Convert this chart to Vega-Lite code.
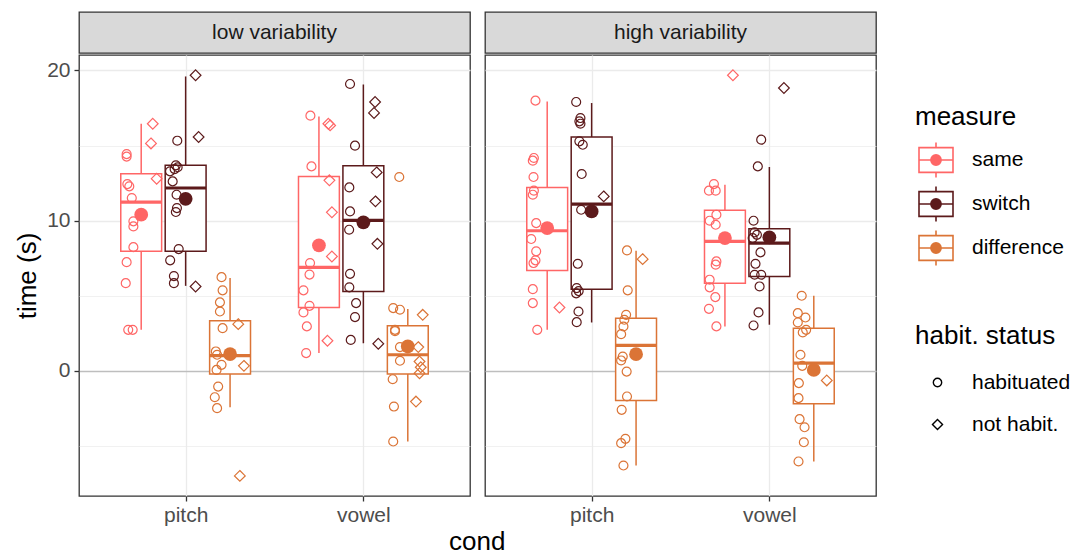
{
"$schema": "https://vega.github.io/schema/vega-lite/v6.json",
"padding": {"left": 13, "top": 11, "right": 5, "bottom": 3},
"background": "white",
"datasets": {
"boxes": [
{"var":"low","cond":"pitch","measure":"same","lo":2.72,"q1":7.95,"med":11.23,"q3":13.12,"hi":16.45,"mean":10.39},
{"var":"low","cond":"pitch","measure":"switch","lo":5.65,"q1":7.95,"med":12.17,"q3":13.68,"hi":19.6,"mean":11.45},
{"var":"low","cond":"pitch","measure":"difference","lo":-2.43,"q1":-0.23,"med":1.0,"q3":3.32,"hi":6.17,"mean":1.1},
{"var":"low","cond":"vowel","measure":"same","lo":1.17,"q1":4.21,"med":6.88,"q3":12.94,"hi":16.94,"mean":8.35},
{"var":"low","cond":"vowel","measure":"switch","lo":1.83,"q1":5.28,"med":10.01,"q3":13.65,"hi":19.06,"mean":9.88},
{"var":"low","cond":"vowel","measure":"difference","lo":-4.72,"q1":-0.23,"med":1.06,"q3":2.99,"hi":4.1,"mean":1.61},
{"var":"high","cond":"pitch","measure":"same","lo":2.72,"q1":6.68,"med":9.32,"q3":12.21,"hi":17.94,"mean":9.5},
{"var":"high","cond":"pitch","measure":"switch","lo":3.21,"q1":5.43,"med":11.1,"q3":15.57,"hi":17.83,"mean":10.61},
{"var":"high","cond":"pitch","measure":"difference","lo":-6.32,"q1":-1.99,"med":1.68,"q3":3.5,"hi":7.99,"mean":1.1},
{"var":"high","cond":"vowel","measure":"same","lo":2.95,"q1":5.83,"med":8.61,"q3":10.68,"hi":12.39,"mean":8.83},
{"var":"high","cond":"vowel","measure":"switch","lo":3.06,"q1":6.28,"med":8.5,"q3":9.46,"hi":13.57,"mean":8.88},
{"var":"high","cond":"vowel","measure":"difference","lo":-6.05,"q1":-2.21,"med":0.5,"q3":2.83,"hi":4.99,"mean":0.05}
],
"pts": [
{"var":"low","cond":"pitch","measure":"same","status":"not habit.","time":16.45,"jit":0.065},
{"var":"low","cond":"pitch","measure":"same","status":"not habit.","time":15.14,"jit":0.055},
{"var":"low","cond":"pitch","measure":"same","status":"habituated","time":14.43,"jit":-0.082},
{"var":"low","cond":"pitch","measure":"same","status":"habituated","time":14.26,"jit":-0.082},
{"var":"low","cond":"pitch","measure":"same","status":"not habit.","time":12.79,"jit":0.087},
{"var":"low","cond":"pitch","measure":"same","status":"habituated","time":12.43,"jit":-0.078},
{"var":"low","cond":"pitch","measure":"same","status":"habituated","time":12.28,"jit":-0.067},
{"var":"low","cond":"pitch","measure":"same","status":"habituated","time":11.5,"jit":-0.053},
{"var":"low","cond":"pitch","measure":"same","status":"habituated","time":9.95,"jit":-0.044},
{"var":"low","cond":"pitch","measure":"same","status":"habituated","time":9.61,"jit":-0.044},
{"var":"low","cond":"pitch","measure":"same","status":"habituated","time":8.23,"jit":-0.044},
{"var":"low","cond":"pitch","measure":"same","status":"habituated","time":7.23,"jit":-0.082},
{"var":"low","cond":"pitch","measure":"same","status":"habituated","time":5.83,"jit":-0.087},
{"var":"low","cond":"pitch","measure":"same","status":"habituated","time":2.72,"jit":-0.073},
{"var":"low","cond":"pitch","measure":"same","status":"habituated","time":2.72,"jit":-0.048},
{"var":"low","cond":"pitch","measure":"switch","status":"not habit.","time":19.68,"jit":0.056},
{"var":"low","cond":"pitch","measure":"switch","status":"not habit.","time":15.57,"jit":0.073},
{"var":"low","cond":"pitch","measure":"switch","status":"habituated","time":15.32,"jit":-0.047},
{"var":"low","cond":"pitch","measure":"switch","status":"habituated","time":13.68,"jit":-0.055},
{"var":"low","cond":"pitch","measure":"switch","status":"habituated","time":13.55,"jit":-0.045},
{"var":"low","cond":"pitch","measure":"switch","status":"habituated","time":13.43,"jit":-0.062},
{"var":"low","cond":"pitch","measure":"switch","status":"habituated","time":13.28,"jit":-0.088},
{"var":"low","cond":"pitch","measure":"switch","status":"habituated","time":12.61,"jit":-0.073},
{"var":"low","cond":"pitch","measure":"switch","status":"habituated","time":11.72,"jit":-0.051},
{"var":"low","cond":"pitch","measure":"switch","status":"habituated","time":10.83,"jit":-0.049},
{"var":"low","cond":"pitch","measure":"switch","status":"habituated","time":10.57,"jit":-0.055},
{"var":"low","cond":"pitch","measure":"switch","status":"habituated","time":8.1,"jit":-0.039},
{"var":"low","cond":"pitch","measure":"switch","status":"habituated","time":7.35,"jit":-0.087},
{"var":"low","cond":"pitch","measure":"switch","status":"habituated","time":6.3,"jit":-0.066},
{"var":"low","cond":"pitch","measure":"switch","status":"habituated","time":5.83,"jit":-0.066},
{"var":"low","cond":"pitch","measure":"switch","status":"not habit.","time":5.61,"jit":0.056},
{"var":"low","cond":"pitch","measure":"difference","status":"habituated","time":6.23,"jit":-0.048},
{"var":"low","cond":"pitch","measure":"difference","status":"habituated","time":5.35,"jit":-0.042},
{"var":"low","cond":"pitch","measure":"difference","status":"habituated","time":4.55,"jit":-0.057},
{"var":"low","cond":"pitch","measure":"difference","status":"habituated","time":3.94,"jit":-0.057},
{"var":"low","cond":"pitch","measure":"difference","status":"not habit.","time":3.1,"jit":0.046},
{"var":"low","cond":"pitch","measure":"difference","status":"habituated","time":2.83,"jit":-0.042},
{"var":"low","cond":"pitch","measure":"difference","status":"habituated","time":1.28,"jit":-0.08},
{"var":"low","cond":"pitch","measure":"difference","status":"habituated","time":1.06,"jit":-0.073},
{"var":"low","cond":"pitch","measure":"difference","status":"habituated","time":0.39,"jit":-0.048},
{"var":"low","cond":"pitch","measure":"difference","status":"not habit.","time":0.32,"jit":0.078},
{"var":"low","cond":"pitch","measure":"difference","status":"habituated","time":0.05,"jit":-0.076},
{"var":"low","cond":"pitch","measure":"difference","status":"habituated","time":-1.06,"jit":-0.067},
{"var":"low","cond":"pitch","measure":"difference","status":"habituated","time":-1.77,"jit":-0.086},
{"var":"low","cond":"pitch","measure":"difference","status":"habituated","time":-2.5,"jit":-0.073},
{"var":"low","cond":"pitch","measure":"difference","status":"not habit.","time":-7.01,"jit":0.055},
{"var":"low","cond":"vowel","measure":"same","status":"habituated","time":16.99,"jit":-0.048},
{"var":"low","cond":"vowel","measure":"same","status":"not habit.","time":16.45,"jit":0.053},
{"var":"low","cond":"vowel","measure":"same","status":"not habit.","time":16.34,"jit":0.063},
{"var":"low","cond":"vowel","measure":"same","status":"habituated","time":13.61,"jit":-0.042},
{"var":"low","cond":"vowel","measure":"same","status":"not habit.","time":12.68,"jit":0.059},
{"var":"low","cond":"vowel","measure":"same","status":"not habit.","time":10.55,"jit":0.073},
{"var":"low","cond":"vowel","measure":"same","status":"not habit.","time":7.61,"jit":0.073},
{"var":"low","cond":"vowel","measure":"same","status":"habituated","time":7.17,"jit":-0.05},
{"var":"low","cond":"vowel","measure":"same","status":"habituated","time":6.4,"jit":-0.053},
{"var":"low","cond":"vowel","measure":"same","status":"habituated","time":5.35,"jit":-0.087},
{"var":"low","cond":"vowel","measure":"same","status":"habituated","time":4.32,"jit":-0.053},
{"var":"low","cond":"vowel","measure":"same","status":"habituated","time":3.88,"jit":-0.087},
{"var":"low","cond":"vowel","measure":"same","status":"habituated","time":2.95,"jit":-0.068},
{"var":"low","cond":"vowel","measure":"same","status":"not habit.","time":1.99,"jit":0.048},
{"var":"low","cond":"vowel","measure":"same","status":"habituated","time":1.17,"jit":-0.072},
{"var":"low","cond":"vowel","measure":"switch","status":"habituated","time":19.1,"jit":-0.075},
{"var":"low","cond":"vowel","measure":"switch","status":"not habit.","time":17.9,"jit":0.066},
{"var":"low","cond":"vowel","measure":"switch","status":"not habit.","time":17.17,"jit":0.06},
{"var":"low","cond":"vowel","measure":"switch","status":"habituated","time":14.99,"jit":-0.047},
{"var":"low","cond":"vowel","measure":"switch","status":"not habit.","time":13.21,"jit":0.075},
{"var":"low","cond":"vowel","measure":"switch","status":"habituated","time":12.21,"jit":-0.079},
{"var":"low","cond":"vowel","measure":"switch","status":"not habit.","time":11.28,"jit":0.068},
{"var":"low","cond":"vowel","measure":"switch","status":"habituated","time":10.61,"jit":-0.075},
{"var":"low","cond":"vowel","measure":"switch","status":"habituated","time":9.39,"jit":-0.08},
{"var":"low","cond":"vowel","measure":"switch","status":"not habit.","time":8.45,"jit":0.079},
{"var":"low","cond":"vowel","measure":"switch","status":"habituated","time":6.45,"jit":-0.075},
{"var":"low","cond":"vowel","measure":"switch","status":"habituated","time":5.55,"jit":-0.079},
{"var":"low","cond":"vowel","measure":"switch","status":"habituated","time":4.5,"jit":-0.041},
{"var":"low","cond":"vowel","measure":"switch","status":"habituated","time":3.57,"jit":-0.047},
{"var":"low","cond":"vowel","measure":"switch","status":"habituated","time":2.05,"jit":-0.071},
{"var":"low","cond":"vowel","measure":"switch","status":"not habit.","time":1.79,"jit":0.084},
{"var":"low","cond":"vowel","measure":"difference","status":"habituated","time":12.9,"jit":-0.048},
{"var":"low","cond":"vowel","measure":"difference","status":"habituated","time":4.17,"jit":-0.082},
{"var":"low","cond":"vowel","measure":"difference","status":"habituated","time":4.06,"jit":-0.044},
{"var":"low","cond":"vowel","measure":"difference","status":"not habit.","time":3.72,"jit":0.084},
{"var":"low","cond":"vowel","measure":"difference","status":"habituated","time":2.72,"jit":-0.072},
{"var":"low","cond":"vowel","measure":"difference","status":"habituated","time":2.63,"jit":-0.072},
{"var":"low","cond":"vowel","measure":"difference","status":"habituated","time":1.57,"jit":-0.044},
{"var":"low","cond":"vowel","measure":"difference","status":"not habit.","time":1.57,"jit":0.059},
{"var":"low","cond":"vowel","measure":"difference","status":"habituated","time":0.66,"jit":-0.044},
{"var":"low","cond":"vowel","measure":"difference","status":"not habit.","time":0.61,"jit":0.066},
{"var":"low","cond":"vowel","measure":"difference","status":"not habit.","time":0.23,"jit":0.073},
{"var":"low","cond":"vowel","measure":"difference","status":"not habit.","time":-0.17,"jit":0.066},
{"var":"low","cond":"vowel","measure":"difference","status":"habituated","time":-0.57,"jit":-0.085},
{"var":"low","cond":"vowel","measure":"difference","status":"not habit.","time":-2.06,"jit":0.046},
{"var":"low","cond":"vowel","measure":"difference","status":"habituated","time":-2.39,"jit":-0.078},
{"var":"low","cond":"vowel","measure":"difference","status":"habituated","time":-4.72,"jit":-0.082},
{"var":"high","cond":"pitch","measure":"same","status":"habituated","time":17.99,"jit":-0.066},
{"var":"high","cond":"pitch","measure":"same","status":"habituated","time":14.17,"jit":-0.075},
{"var":"high","cond":"pitch","measure":"same","status":"habituated","time":13.99,"jit":-0.081},
{"var":"high","cond":"pitch","measure":"same","status":"habituated","time":12.9,"jit":-0.077},
{"var":"high","cond":"pitch","measure":"same","status":"habituated","time":11.99,"jit":-0.075},
{"var":"high","cond":"pitch","measure":"same","status":"habituated","time":11.72,"jit":-0.081},
{"var":"high","cond":"pitch","measure":"same","status":"habituated","time":9.83,"jit":-0.062},
{"var":"high","cond":"pitch","measure":"same","status":"habituated","time":8.77,"jit":-0.09},
{"var":"high","cond":"pitch","measure":"same","status":"habituated","time":7.95,"jit":-0.062},
{"var":"high","cond":"pitch","measure":"same","status":"habituated","time":7.35,"jit":-0.066},
{"var":"high","cond":"pitch","measure":"same","status":"habituated","time":7.17,"jit":-0.077},
{"var":"high","cond":"pitch","measure":"same","status":"habituated","time":5.43,"jit":-0.081},
{"var":"high","cond":"pitch","measure":"same","status":"habituated","time":4.5,"jit":-0.081},
{"var":"high","cond":"pitch","measure":"same","status":"not habit.","time":4.21,"jit":0.069},
{"var":"high","cond":"pitch","measure":"same","status":"habituated","time":2.72,"jit":-0.056},
{"var":"high","cond":"pitch","measure":"switch","status":"habituated","time":17.9,"jit":-0.087},
{"var":"high","cond":"pitch","measure":"switch","status":"habituated","time":16.83,"jit":-0.063},
{"var":"high","cond":"pitch","measure":"switch","status":"habituated","time":16.61,"jit":-0.069},
{"var":"high","cond":"pitch","measure":"switch","status":"habituated","time":16.45,"jit":-0.063},
{"var":"high","cond":"pitch","measure":"switch","status":"habituated","time":15.28,"jit":-0.069},
{"var":"high","cond":"pitch","measure":"switch","status":"habituated","time":15.05,"jit":-0.05},
{"var":"high","cond":"pitch","measure":"switch","status":"habituated","time":13.1,"jit":-0.056},
{"var":"high","cond":"pitch","measure":"switch","status":"not habit.","time":11.61,"jit":0.068},
{"var":"high","cond":"pitch","measure":"switch","status":"habituated","time":10.72,"jit":-0.059},
{"var":"high","cond":"pitch","measure":"switch","status":"habituated","time":7.12,"jit":-0.078},
{"var":"high","cond":"pitch","measure":"switch","status":"habituated","time":5.5,"jit":-0.084},
{"var":"high","cond":"pitch","measure":"switch","status":"habituated","time":5.3,"jit":-0.073},
{"var":"high","cond":"pitch","measure":"switch","status":"habituated","time":5.15,"jit":-0.087},
{"var":"high","cond":"pitch","measure":"switch","status":"habituated","time":3.94,"jit":-0.074},
{"var":"high","cond":"pitch","measure":"switch","status":"habituated","time":3.23,"jit":-0.084},
{"var":"high","cond":"pitch","measure":"difference","status":"habituated","time":8.01,"jit":-0.051},
{"var":"high","cond":"pitch","measure":"difference","status":"not habit.","time":7.43,"jit":0.037},
{"var":"high","cond":"pitch","measure":"difference","status":"habituated","time":5.35,"jit":-0.047},
{"var":"high","cond":"pitch","measure":"difference","status":"habituated","time":3.72,"jit":-0.056},
{"var":"high","cond":"pitch","measure":"difference","status":"habituated","time":3.39,"jit":-0.066},
{"var":"high","cond":"pitch","measure":"difference","status":"habituated","time":2.94,"jit":-0.071},
{"var":"high","cond":"pitch","measure":"difference","status":"habituated","time":2.43,"jit":-0.084},
{"var":"high","cond":"pitch","measure":"difference","status":"habituated","time":0.94,"jit":-0.075},
{"var":"high","cond":"pitch","measure":"difference","status":"habituated","time":0.68,"jit":-0.084},
{"var":"high","cond":"pitch","measure":"difference","status":"habituated","time":-0.06,"jit":-0.053},
{"var":"high","cond":"pitch","measure":"difference","status":"habituated","time":-1.72,"jit":-0.051},
{"var":"high","cond":"pitch","measure":"difference","status":"habituated","time":-2.61,"jit":-0.081},
{"var":"high","cond":"pitch","measure":"difference","status":"habituated","time":-4.54,"jit":-0.06},
{"var":"high","cond":"pitch","measure":"difference","status":"habituated","time":-4.83,"jit":-0.084},
{"var":"high","cond":"pitch","measure":"difference","status":"habituated","time":-6.32,"jit":-0.071},
{"var":"high","cond":"vowel","measure":"same","status":"not habit.","time":19.68,"jit":0.045},
{"var":"high","cond":"vowel","measure":"same","status":"habituated","time":12.43,"jit":-0.062},
{"var":"high","cond":"vowel","measure":"same","status":"habituated","time":11.99,"jit":-0.09},
{"var":"high","cond":"vowel","measure":"same","status":"habituated","time":11.99,"jit":-0.052},
{"var":"high","cond":"vowel","measure":"same","status":"habituated","time":10.39,"jit":-0.048},
{"var":"high","cond":"vowel","measure":"same","status":"habituated","time":9.99,"jit":-0.086},
{"var":"high","cond":"vowel","measure":"same","status":"habituated","time":9.72,"jit":-0.052},
{"var":"high","cond":"vowel","measure":"same","status":"habituated","time":7.28,"jit":-0.048},
{"var":"high","cond":"vowel","measure":"same","status":"habituated","time":7.06,"jit":-0.052},
{"var":"high","cond":"vowel","measure":"same","status":"habituated","time":6.06,"jit":-0.086},
{"var":"high","cond":"vowel","measure":"same","status":"habituated","time":5.55,"jit":-0.086},
{"var":"high","cond":"vowel","measure":"same","status":"habituated","time":4.9,"jit":-0.054},
{"var":"high","cond":"vowel","measure":"same","status":"habituated","time":4.12,"jit":-0.09},
{"var":"high","cond":"vowel","measure":"same","status":"habituated","time":2.95,"jit":-0.048},
{"var":"high","cond":"vowel","measure":"switch","status":"not habit.","time":18.83,"jit":0.082},
{"var":"high","cond":"vowel","measure":"switch","status":"habituated","time":15.39,"jit":-0.046},
{"var":"high","cond":"vowel","measure":"switch","status":"habituated","time":13.61,"jit":-0.065},
{"var":"high","cond":"vowel","measure":"switch","status":"habituated","time":9.99,"jit":-0.089},
{"var":"high","cond":"vowel","measure":"switch","status":"habituated","time":9.21,"jit":-0.083},
{"var":"high","cond":"vowel","measure":"switch","status":"habituated","time":9.05,"jit":-0.07},
{"var":"high","cond":"vowel","measure":"switch","status":"habituated","time":8.83,"jit":-0.094},
{"var":"high","cond":"vowel","measure":"switch","status":"habituated","time":7.88,"jit":-0.05},
{"var":"high","cond":"vowel","measure":"switch","status":"habituated","time":7.12,"jit":-0.078},
{"var":"high","cond":"vowel","measure":"switch","status":"habituated","time":6.39,"jit":-0.083},
{"var":"high","cond":"vowel","measure":"switch","status":"habituated","time":6.39,"jit":-0.046},
{"var":"high","cond":"vowel","measure":"switch","status":"habituated","time":5.61,"jit":-0.055},
{"var":"high","cond":"vowel","measure":"switch","status":"habituated","time":3.88,"jit":-0.061},
{"var":"high","cond":"vowel","measure":"switch","status":"habituated","time":3.01,"jit":-0.089},
{"var":"high","cond":"vowel","measure":"difference","status":"habituated","time":4.99,"jit":-0.068},
{"var":"high","cond":"vowel","measure":"difference","status":"habituated","time":3.83,"jit":-0.09},
{"var":"high","cond":"vowel","measure":"difference","status":"habituated","time":3.54,"jit":-0.047},
{"var":"high","cond":"vowel","measure":"difference","status":"habituated","time":3.21,"jit":-0.09},
{"var":"high","cond":"vowel","measure":"difference","status":"habituated","time":2.72,"jit":-0.043},
{"var":"high","cond":"vowel","measure":"difference","status":"habituated","time":2.55,"jit":-0.062},
{"var":"high","cond":"vowel","measure":"difference","status":"habituated","time":1.06,"jit":-0.075},
{"var":"high","cond":"vowel","measure":"difference","status":"habituated","time":0.32,"jit":-0.065},
{"var":"high","cond":"vowel","measure":"difference","status":"not habit.","time":-0.65,"jit":0.073},
{"var":"high","cond":"vowel","measure":"difference","status":"habituated","time":-0.83,"jit":-0.084},
{"var":"high","cond":"vowel","measure":"difference","status":"habituated","time":-1.83,"jit":-0.086},
{"var":"high","cond":"vowel","measure":"difference","status":"habituated","time":-3.23,"jit":-0.08},
{"var":"high","cond":"vowel","measure":"difference","status":"habituated","time":-3.77,"jit":-0.052},
{"var":"high","cond":"vowel","measure":"difference","status":"habituated","time":-4.77,"jit":-0.056},
{"var":"high","cond":"vowel","measure":"difference","status":"habituated","time":-6.05,"jit":-0.086}
]
},
"title": {"text": "cond", "orient": "bottom", "anchor": "start", "frame": "group", "dx": 370, "fontSize": 26, "fontWeight": "normal", "color": "black", "offset": 3},
"spacing": 13,
"hconcat": [
{
"spacing": 0,
"vconcat": [
{
"width": 391, "height": 41,
"view": {"fill": "#D9D9D9", "stroke": "#333333", "strokeWidth": 1.3},
"data": {"values": [{"label": "low variability"}]},
"mark": {"type": "text", "fontSize": 21, "color": "#1A1A1A"},
"encoding": {"text": {"field": "label", "type": "nominal"}}
},
{
"width": 391, "height": 441,
"data": {"name": "boxes"},
"transform": [
{"filter": "datum.var == 'low'"},
{"calculate": "(datum.cond == 'pitch' ? 1 : 2) + (datum.measure == 'same' ? -0.25 : (datum.measure == 'switch' ? 0 : 0.25))", "as": "xc"},
{"calculate": "datum.xc - 0.115", "as": "xl"},
{"calculate": "datum.xc + 0.115", "as": "xr"}
],
"layer": [
{
"mark": {"type": "rule", "strokeWidth": 1.5},
"encoding": {
"x": {"field": "xc", "type": "quantitative", "scale": {"domain": [0.4, 2.6], "nice": false, "zero": false},
 "axis": {"values": [1, 2], "labelExpr": "datum.value == 1 ? 'pitch' : 'vowel'", "title": null, "grid": true, "gridColor": "#EBEBEB", "gridWidth": 1.3, "tickSize": 5, "tickColor": "#333333", "tickWidth": 1.3, "labelPadding": 3, "domain": false, "labelFontSize": 21, "labelColor": "#4D4D4D"}},
"y": {"field": "lo", "type": "quantitative", "scale": {"domain": [-8.35, 21.03], "nice": false, "zero": false},
 "axis": {"values": [-5, 0, 5, 10, 15, 20], "labelExpr": "datum.value % 10 == 0 ? datum.label : ''",
  "tickOpacity": {"condition": {"test": "datum.value % 10 == 0", "value": 1}, "value": 0},
  "gridColor": {"condition": {"test": "datum.value == 0", "value": "#BEBEBE"}, "value": "#EBEBEB"},
  "gridWidth": {"condition": {"test": "datum.value % 10 == 0", "value": 1.5}, "value": 0.7},
  "title": "time (s)", "titleFontSize": 26, "titleFontWeight": "normal", "titleColor": "black", "titlePadding": 6,
  "tickSize": 5, "tickColor": "#333333", "tickWidth": 1.3, "labelPadding": 4, "domain": false, "labelFontSize": 21, "labelColor": "#4D4D4D"}},
"y2": {"field": "hi"},
"color": {"field": "measure", "type": "nominal",
 "scale": {"domain": ["same", "switch", "difference"], "range": ["#FF6666", "#5C1A1B", "#DB7436"]},
 "legend": {"title": "measure", "orient": "none", "legendX": 836, "legendY": 92,
  "symbolSize": 1156, "symbolStrokeWidth": 1.6, "symbolFillColor": "transparent", "symbolOffset": 3, "rowPadding": 2, "titlePadding": 12, "labelOffset": 18,
  "encode": {"symbols": {"update": {
   "shape": {"value": "M-1,-0.73H1V0.73H-1Z M-1,0H1 M0,-0.73V-1.03 M0,0.73V1.03 M-0.3,0A0.3,0.3 0 1,0 0.3,0A0.3,0.3 0 1,0 -0.3,0 M-0.22,0A0.22,0.22 0 1,0 0.22,0A0.22,0.22 0 1,0 -0.22,0 M-0.14,0A0.14,0.14 0 1,0 0.14,0A0.14,0.14 0 1,0 -0.14,0 M-0.06,0A0.06,0.06 0 1,0 0.06,0A0.06,0.06 0 1,0 -0.06,0"},
   "fill": {"value": "transparent"},
   "fillOpacity": {"value": 0},
   "stroke": {"scale": "color", "field": "value"},
   "strokeOpacity": {"value": 1},
   "strokeWidth": {"value": 1.6},
   "size": {"value": 1156},
   "opacity": {"value": 1}}}}}}
}
},
{
"mark": {"type": "rect", "filled": false, "fill": "white", "strokeWidth": 1.5},
"encoding": {
"x": {"field": "xl", "type": "quantitative"}, "x2": {"field": "xr"},
"y": {"field": "q1", "type": "quantitative"}, "y2": {"field": "q3"},
"color": {"field": "measure", "type": "nominal"}
}
},
{
"mark": {"type": "rule", "strokeWidth": 3.2},
"encoding": {
"x": {"field": "xl", "type": "quantitative"}, "x2": {"field": "xr"},
"y": {"field": "med", "type": "quantitative"},
"color": {"field": "measure", "type": "nominal"}
}
},
{
"data": {"name": "pts"},
"transform": [
{"filter": "datum.var == 'low'"},
{"calculate": "(datum.cond == 'pitch' ? 1 : 2) + (datum.measure == 'same' ? -0.25 : (datum.measure == 'switch' ? 0 : 0.25)) + datum.jit", "as": "xp"}
],
"mark": {"type": "point", "filled": false, "size": 80, "strokeWidth": 1.2, "opacity": 1},
"encoding": {
"x": {"field": "xp", "type": "quantitative"},
"y": {"field": "time", "type": "quantitative"},
"color": {"field": "measure", "type": "nominal"},
"shape": {"field": "status", "type": "nominal",
 "scale": {"domain": ["habituated", "not habit."], "range": ["circle", "M0,-1.2L1.2,0L0,1.2L-1.2,0Z"]},
 "legend": {"title": "habit. status", "orient": "none", "legendX": 836, "legendY": 311,
  "symbolSize": 70, "symbolStrokeWidth": 1.4, "symbolStrokeColor": "black", "symbolFillColor": "transparent", "symbolOffset": 12, "rowPadding": 20, "titlePadding": 23, "labelOffset": 24}}
}
},
{
"mark": {"type": "point", "filled": true, "size": 190, "opacity": 1},
"encoding": {
"x": {"field": "xc", "type": "quantitative"},
"y": {"field": "mean", "type": "quantitative"},
"color": {"field": "measure", "type": "nominal"}
}
}
]
}
]
},
{
"spacing": 0,
"vconcat": [
{
"width": 391, "height": 41,
"view": {"fill": "#D9D9D9", "stroke": "#333333", "strokeWidth": 1.3},
"data": {"values": [{"label": "high variability"}]},
"mark": {"type": "text", "fontSize": 21, "color": "#1A1A1A"},
"encoding": {"text": {"field": "label", "type": "nominal"}}
},
{
"width": 391, "height": 441,
"data": {"name": "boxes"},
"transform": [
{"filter": "datum.var == 'high'"},
{"calculate": "(datum.cond == 'pitch' ? 1 : 2) + (datum.measure == 'same' ? -0.25 : (datum.measure == 'switch' ? 0 : 0.25))", "as": "xc"},
{"calculate": "datum.xc - 0.115", "as": "xl"},
{"calculate": "datum.xc + 0.115", "as": "xr"}
],
"layer": [
{
"mark": {"type": "rule", "strokeWidth": 1.5},
"encoding": {
"x": {"field": "xc", "type": "quantitative", "scale": {"domain": [0.4, 2.6], "nice": false, "zero": false},
 "axis": {"values": [1, 2], "labelExpr": "datum.value == 1 ? 'pitch' : 'vowel'", "title": null, "grid": true, "gridColor": "#EBEBEB", "gridWidth": 1.3, "tickSize": 5, "tickColor": "#333333", "tickWidth": 1.3, "labelPadding": 3, "domain": false, "labelFontSize": 21, "labelColor": "#4D4D4D"}},
"y": {"field": "lo", "type": "quantitative", "scale": {"domain": [-8.35, 21.03], "nice": false, "zero": false},
 "axis": {"values": [-5, 0, 5, 10, 15, 20], "labels": false, "ticks": false, "title": null, "domain": false,
  "gridColor": {"condition": {"test": "datum.value == 0", "value": "#BEBEBE"}, "value": "#EBEBEB"},
  "gridWidth": {"condition": {"test": "datum.value % 10 == 0", "value": 1.5}, "value": 0.7}}},
"y2": {"field": "hi"},
"color": {"field": "measure", "type": "nominal"}
}
},
{
"mark": {"type": "rect", "filled": false, "fill": "white", "strokeWidth": 1.5},
"encoding": {
"x": {"field": "xl", "type": "quantitative"}, "x2": {"field": "xr"},
"y": {"field": "q1", "type": "quantitative"}, "y2": {"field": "q3"},
"color": {"field": "measure", "type": "nominal"}
}
},
{
"mark": {"type": "rule", "strokeWidth": 3.2},
"encoding": {
"x": {"field": "xl", "type": "quantitative"}, "x2": {"field": "xr"},
"y": {"field": "med", "type": "quantitative"},
"color": {"field": "measure", "type": "nominal"}
}
},
{
"data": {"name": "pts"},
"transform": [
{"filter": "datum.var == 'high'"},
{"calculate": "(datum.cond == 'pitch' ? 1 : 2) + (datum.measure == 'same' ? -0.25 : (datum.measure == 'switch' ? 0 : 0.25)) + datum.jit", "as": "xp"}
],
"mark": {"type": "point", "filled": false, "size": 80, "strokeWidth": 1.2, "opacity": 1},
"encoding": {
"x": {"field": "xp", "type": "quantitative"},
"y": {"field": "time", "type": "quantitative"},
"color": {"field": "measure", "type": "nominal"},
"shape": {"field": "status", "type": "nominal"}
}
},
{
"mark": {"type": "point", "filled": true, "size": 190, "opacity": 1},
"encoding": {
"x": {"field": "xc", "type": "quantitative"},
"y": {"field": "mean", "type": "quantitative"},
"color": {"field": "measure", "type": "nominal"}
}
}
]
}
]
}
],
"config": {
"font": "Liberation Sans",
"view": {"stroke": "#333333", "strokeWidth": 1.3},
"legend": {"titleFontSize": 26, "titleFontWeight": "normal", "titleColor": "black", "labelFontSize": 21, "labelColor": "black", "symbolBaseStrokeColor": "black", "symbolBaseFillColor": "transparent"}
}
}
